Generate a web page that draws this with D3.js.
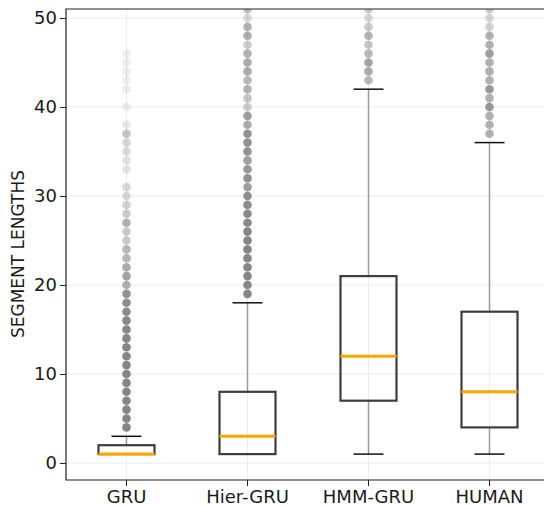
<!DOCTYPE html>
<html>
<head>
<meta charset="utf-8">
<script src="https://cdn.jsdelivr.net/npm/d3@7"></script>
<style>
  html, body { margin: 0; padding: 0; background: #fff; }
  svg { display: block; font-family: "DejaVu Sans", sans-serif; }
</style>
</head>
<body>
<svg id="chart" width="544" height="505"></svg>
<script>
// Segment length distributions per model
const categories = ["GRU", "Hier-GRU", "HMM-GRU", "HUMAN"];
const q1Values = [1, 1, 7, 4];
const medianValues = [1, 3, 12, 8];
const q3Values = [2, 8, 21, 17];
const whiskerLow = [1, 1, 1, 1];
const whiskerHigh = [3, 18, 42, 36];

// Outliers as [value, shade]; shade is how dense the overlapping points are
const fliersGRU = [
  [4, 0.95], [5, 0.95], [6, 0.95], [7, 0.95], [8, 0.95], [9, 0.95], [10, 0.95],
  [11, 0.95], [12, 0.95], [13, 0.95], [14, 0.95], [15, 0.95], [16, 0.92], [17, 0.9],
  [18, 0.88], [19, 0.85], [20, 0.6], [21, 0.72], [22, 0.65], [23, 0.55], [24, 0.55],
  [25, 0.4], [26, 0.4], [27, 0.6], [28, 0.4], [29, 0.35], [30, 0.3], [31, 0.3],
  [33, 0.2], [34, 0.22], [35, 0.28], [36, 0.3], [37, 0.45], [38, 0.18], [40, 0.14],
  [42, 0.13], [43, 0.13], [44, 0.13], [45, 0.12], [46, 0.12]
];
const fliersHier = [
  [19, 0.95], [20, 0.95], [21, 0.95], [22, 0.95], [23, 0.95], [24, 0.95], [25, 0.95],
  [26, 0.95], [27, 0.92], [28, 0.92], [29, 0.9], [30, 0.88], [31, 0.75], [32, 0.85],
  [33, 0.8], [34, 0.72], [35, 0.85], [36, 0.85], [37, 0.85], [38, 0.65], [39, 0.75],
  [40, 0.4], [41, 0.45], [42, 0.6], [43, 0.55], [44, 0.65], [45, 0.65], [46, 0.6],
  [47, 0.4], [48, 0.65], [49, 0.6], [50, 0.3], [51, 0.5]
];
const fliersHMM = [
  [43, 0.55], [44, 0.65], [45, 0.7], [46, 0.55], [47, 0.45], [48, 0.6], [49, 0.4],
  [50, 0.3], [51, 0.4]
];
const fliersHuman = [
  [37, 0.6], [38, 0.6], [39, 0.6], [40, 0.8], [41, 0.6], [42, 0.8], [43, 0.6],
  [44, 0.6], [45, 0.6], [46, 0.75], [47, 0.6], [48, 0.6], [49, 0.35], [50, 0.3], [51, 0.4]
];
const fliers = [fliersGRU, fliersHier, fliersHMM, fliersHuman];

const yTicks = [0, 10, 20, 30, 40, 50];
const yLabel = "SEGMENT LENGTHS";

const boxes = categories.map((c, i) => ({
  name: c, q1: q1Values[i], med: medianValues[i], q3: q3Values[i],
  lo: whiskerLow[i], hi: whiskerHigh[i], out: fliers[i]
}));

const svg = d3.select("#chart");
const plotLeft = 66, plotTop = 9, plotBottom = 480;
const step = 121;
const plotRight = plotLeft + step * categories.length;

const x = d3.scaleBand().domain(categories).range([plotLeft, plotRight]).paddingInner(0).paddingOuter(0);
const y = d3.scaleLinear().domain([-1.91, 51.01]).range([plotBottom, plotTop]);
const cx = d => x(d) + x.bandwidth() / 2;

svg.append("defs").append("clipPath").attr("id", "plot-clip")
  .append("rect").attr("x", plotLeft).attr("y", plotTop)
  .attr("width", plotRight - plotLeft).attr("height", plotBottom - plotTop);

// grid
const grid = svg.append("g").attr("stroke", "#ececec").attr("stroke-width", 1);
grid.selectAll("line.h").data(yTicks).join("line").attr("class", "h")
  .attr("x1", plotLeft).attr("x2", plotRight)
  .attr("y1", d => y(d)).attr("y2", d => y(d));
grid.selectAll("line.v").data(categories).join("line").attr("class", "v")
  .attr("x1", d => cx(d)).attr("x2", d => cx(d))
  .attr("y1", plotTop).attr("y2", plotBottom);

const plot = svg.append("g").attr("clip-path", "url(#plot-clip)");
const boxW = 56, capW = 30;

const g = plot.selectAll("g.box").data(boxes).join("g").attr("class", "box");

// whiskers
g.append("line").attr("stroke", "#9a9a9a").attr("stroke-width", 1.5)
  .attr("x1", d => cx(d.name)).attr("x2", d => cx(d.name))
  .attr("y1", d => y(d.q3)).attr("y2", d => y(d.hi));
g.append("line").attr("stroke", "#9a9a9a").attr("stroke-width", 1.5)
  .attr("x1", d => cx(d.name)).attr("x2", d => cx(d.name))
  .attr("y1", d => y(d.q1)).attr("y2", d => y(d.lo));

// fliers
g.selectAll("circle").data(d => d.out.map(o => ({ c: d.name, v: o[0], a: o[1] }))).join("circle")
  .attr("cx", d => cx(d.c)).attr("cy", d => y(d.v)).attr("r", 4.3)
  .attr("fill", "#7f7f7f").attr("fill-opacity", d => d.a);

// caps
g.append("line").attr("stroke", "#111").attr("stroke-width", 1.5)
  .attr("x1", d => cx(d.name) - capW / 2).attr("x2", d => cx(d.name) + capW / 2)
  .attr("y1", d => y(d.hi)).attr("y2", d => y(d.hi));
g.append("line").attr("stroke", "#111").attr("stroke-width", 1.5)
  .attr("x1", d => cx(d.name) - capW / 2).attr("x2", d => cx(d.name) + capW / 2)
  .attr("y1", d => y(d.lo)).attr("y2", d => y(d.lo));

// boxes
g.append("rect").attr("fill", "none").attr("stroke", "#3d3d3d").attr("stroke-width", 2.2)
  .attr("x", d => cx(d.name) - boxW / 2).attr("width", boxW)
  .attr("y", d => y(d.q3)).attr("height", d => y(d.q1) - y(d.q3));

// medians
g.append("line").attr("stroke", "#ffa500").attr("stroke-width", 3)
  .attr("x1", d => cx(d.name) - boxW / 2).attr("x2", d => cx(d.name) + boxW / 2)
  .attr("y1", d => y(d.med)).attr("y2", d => y(d.med));

// axes
const yAxis = d3.axisLeft(y).tickValues(yTicks).tickSize(6).tickPadding(3).tickFormat(d3.format("d"));
const ya = svg.append("g").attr("transform", `translate(${plotLeft},0)`).call(yAxis);
const xAxis = d3.axisBottom(x).tickSize(6).tickPadding(4);
const xa = svg.append("g").attr("transform", `translate(0,${plotBottom})`).call(xAxis);
[ya, xa].forEach(a => {
  a.select(".domain").remove();
  a.selectAll("line").attr("stroke", "#222").attr("stroke-width", 1);
  a.selectAll("text").attr("fill", "#1a1a1a").style("font-size", "18px").style("font-family", "DejaVu Sans, sans-serif");
});

// spines
svg.append("path").attr("fill", "none").attr("stroke", "#222").attr("stroke-width", 1.2)
  .attr("d", `M${plotRight},${plotTop}H${plotLeft}V${plotBottom}H${plotRight}`);

// y label
svg.append("text")
  .attr("transform", `translate(24,254) rotate(-90)`)
  .attr("text-anchor", "middle").attr("fill", "#1a1a1a")
  .style("font-size", "17px").text(yLabel);
</script>
</body>
</html>
